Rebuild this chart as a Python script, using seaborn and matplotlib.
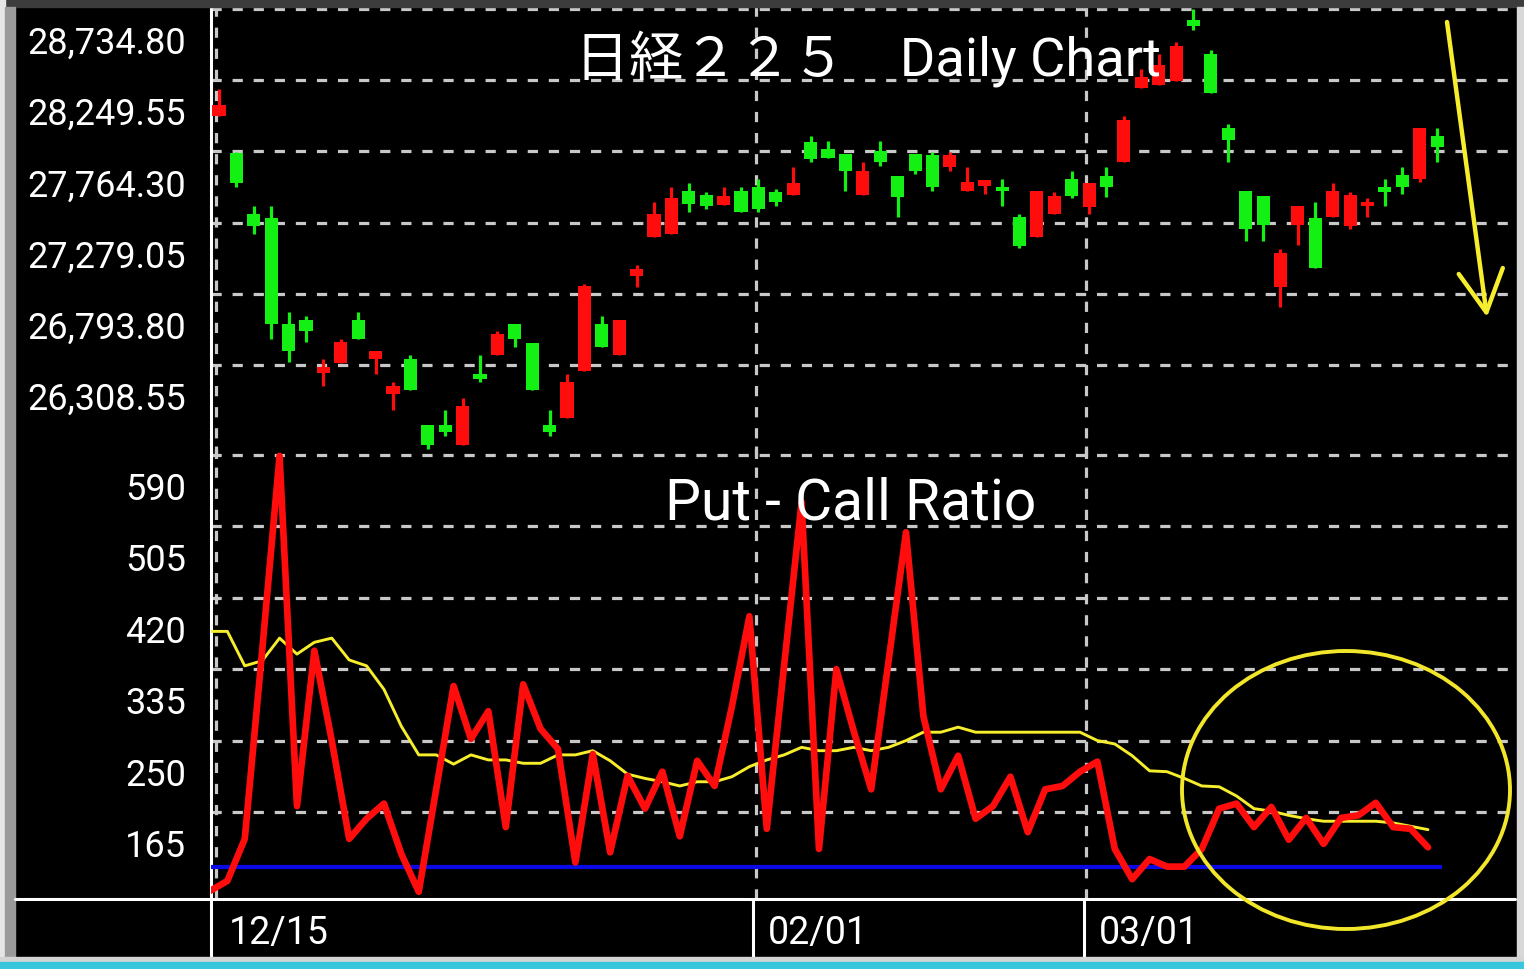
import matplotlib
matplotlib.use("Agg")
import matplotlib.pyplot as plt
import matplotlib.transforms as mtransforms
from matplotlib.patches import Ellipse, Rectangle
from matplotlib.lines import Line2D
import numpy as np
import pandas as pd
import seaborn as sns

# --- daily candles ---
opens = [28006, 27753, 27338, 27310, 26588, 26615, 26254, 26322, 26615, 26350,
         26111, 26350, 25900, 25900, 25764, 26247, 26377, 26588, 26459, 25900,
         25948, 26268, 26588, 26377, 26915, 27181, 27201, 27495, 27467, 27399,
         27495, 27522, 27488, 27467, 27828, 27781, 27747, 27467, 27767, 27597,
         27747, 27740, 27658, 27495, 27529, 27522, 27317, 27181, 27338, 27576,
         27385, 27597, 27692, 28196, 28217, 28244, 28660, 28428, 27924, 27495,
         27460, 26840, 27263, 27310, 27317, 27256, 27392, 27522, 27604, 27576,
         27869]
highs = [28190, 27760, 27392, 27392, 26670, 26643, 26350, 26486, 26670, 26404,
         26193, 26377, 25900, 26002, 26084, 26377, 26541, 26588, 26459, 26002,
         26247, 26861, 26643, 26615, 26990, 27420, 27522, 27549, 27488, 27522,
         27522, 27576, 27508, 27658, 27869, 27835, 27747, 27692, 27835, 27597,
         27747, 27760, 27760, 27658, 27569, 27576, 27338, 27495, 27488, 27631,
         27549, 27658, 28006, 28326, 28428, 28510, 28735, 28455, 27951, 27495,
         27460, 27099, 27392, 27420, 27549, 27488, 27447, 27576, 27658, 27924,
         27924]
lows = [28006, 27522, 27201, 26486, 26329, 26466, 26166, 26322, 26486, 26247,
        26002, 26138, 25736, 25825, 25764, 26193, 26377, 26431, 26138, 25825,
        25948, 26268, 26431, 26377, 26840, 27181, 27201, 27351, 27372, 27399,
        27351, 27351, 27392, 27467, 27692, 27720, 27495, 27467, 27665, 27317,
        27610, 27495, 27631, 27495, 27474, 27392, 27106, 27181, 27338, 27447,
        27338, 27454, 27692, 28196, 28217, 28244, 28592, 28162, 27692, 27154,
        27154, 26704, 27127, 26970, 27317, 27236, 27317, 27392, 27474, 27556,
        27692]
closes = [28080, 27549, 27256, 26588, 26404, 26541, 26295, 26466, 26486, 26404,
          26166, 26138, 25764, 25852, 26029, 26213, 26520, 26486, 26138, 25852,
          26193, 26847, 26431, 26615, 26963, 27338, 27447, 27406, 27392, 27460,
          27351, 27372, 27420, 27549, 27713, 27720, 27631, 27631, 27692, 27454,
          27631, 27522, 27740, 27556, 27569, 27495, 27120, 27495, 27460, 27460,
          27549, 27522, 27978, 28271, 28353, 28483, 28619, 28162, 27842, 27236,
          27263, 27072, 27392, 26970, 27495, 27467, 27420, 27488, 27522, 27924,
          27794]

# --- put/call ratio, its moving average, and the 100 reference ---
pcr = [71, 83, 133, 357, 589, 172, 357, 250, 133, 157,
       175, 115, 70, 192, 315, 252, 285, 147, 317, 264,
       240, 105, 234, 117, 208, 169, 213, 136, 226, 196,
       291, 398, 145, 340, 534, 121, 335, 261, 192, 345,
       498, 279, 192, 232, 157, 172, 207, 141, 192, 196,
       213, 225, 121, 85, 109, 100, 100, 121, 169, 175,
       147, 171, 132, 158, 127, 158, 161, 176, 147, 145,
       123]
pcr_ma = [380, 380, 339, 345, 372, 353, 367, 372, 346, 339,
          311, 267, 233, 233, 222, 233, 227, 227, 223, 223,
          233, 233, 238, 226, 210, 205, 201, 196, 201, 201,
          207, 219, 227, 233, 242, 238, 238, 242, 238, 242,
          250, 260, 260, 266, 260, 260, 260, 260, 260, 260,
          260, 250, 246, 232, 214, 213, 205, 196, 195, 184,
          169, 166, 161, 157, 154, 154, 154, 154, 152, 148,
          144]
pcr_base = 100

price_levels = [28734.80, 28249.55, 27764.30, 27279.05, 26793.80, 26308.55]
pcr_levels = [590, 505, 420, 335, 250, 165]
date_ticks = [0, 31, 50]
date_labels = ["12/15", "02/01", "03/01"]

W, H = 1524, 970
NARROW = ["Roboto", "DejaVu Sans"]
JP = ["Roboto", "Noto Sans CJK JP", "DejaVu Sans"]
RED, GREEN, YEL = "#ff0d0d", "#14f014", "#f6ee2c"
GRID = dict(color="#c8c8c8", linewidth=2.3, dashes=(3.2, 3.4))

sns.set_style("dark")
plt.rcParams["font.family"] = NARROW

df = pd.DataFrame({"open": opens, "high": highs, "low": lows, "close": closes,
                   "pcr": pcr, "ma": pcr_ma})
df["day"] = np.arange(len(df))
df["pcr_x"] = df["day"] - 0.52  # ratio line sits half a slot left of candles


def rect(x0, y0, x1, y1):  # pixel box -> figure fraction
    return [x0 / W, 1 - y1 / H, (x1 - x0) / W, (y1 - y0) / H]


fig = plt.figure(figsize=(W / 100, H / 100), dpi=100, facecolor="black")
ax_top = fig.add_axes(rect(211, 8, 1515, 460))
ax_pcr = fig.add_axes(rect(211, 440, 1515, 900))
ax_date = fig.add_axes(rect(211, 900, 1515, 958))

for ax in (ax_top, ax_pcr, ax_date):
    ax.set_facecolor("none")
    ax.set_xlim(-0.46, 74.48)
    for s in ax.spines.values():
        s.set_visible(False)
    ax.spines["left"].set_visible(True)
    ax.spines["left"].set_color("white")
    ax.spines["left"].set_linewidth(2.2)
    ax.grid(False)

# candles
up = df["close"] > df["open"]
cols = np.where(up, RED, GREEN)
ax_top.vlines(df["day"], df["low"], df["high"], colors=cols, linewidth=2.3, zorder=3)
body_lo = df[["open", "close"]].min(axis=1)
body_h = (df["close"] - df["open"]).abs()
ax_top.bar(df["day"], body_h, bottom=body_lo, width=0.75, color=cols, zorder=4,
           linewidth=0)
ax_top.set_ylim(25667.9, 28748.4)

# put/call lines
ax_pcr.hlines(pcr_base, -0.52, 70.3, color="#0a0ae6", linewidth=3, zorder=3)
sns.lineplot(data=df, x="pcr_x", y="ma", ax=ax_pcr, color=YEL, linewidth=2.1, zorder=4)
sns.lineplot(data=df, x="pcr_x", y="pcr", ax=ax_pcr, color=RED, linewidth=4.8, zorder=5)
ax_pcr.set_ylim(61.43, 609.05)
ax_pcr.set_xlim(-0.46, 74.48)

# grids, ticks, labels
panels = [(ax_top, price_levels, 485.25, lambda v: f"{v:,.2f}"),
          (ax_pcr, pcr_levels, 85, lambda v: f"{v:d}")]
for ax, levels, step, fmt in panels:
    ax.set_xlabel("")
    ax.set_ylabel("")
    ax.set_yticks(levels)
    ax.set_yticks([v - step / 2 for v in levels], minor=True)
    ax.set_xticks(date_ticks)
    ax.tick_params(axis="y", which="major", length=11, width=1.6, color="white",
                   direction="out", labelleft=False)
    ax.tick_params(axis="y", which="minor", length=6, width=1.6, color="white",
                   direction="out", labelleft=False)
    ax.tick_params(axis="x", length=0, labelbottom=False)
    for v in levels:
        ax.axhline(v, **GRID, zorder=1)
    for d in date_ticks:
        ax.axvline(d - 0.15, **GRID, zorder=1)
    trans = mtransforms.offset_copy(
        mtransforms.blended_transform_factory(ax.transAxes, ax.transData),
        fig=fig, x=0, y=-44, units="dots")
    for v in levels:
        ax.text(-0.0192, v, fmt(v), transform=trans, ha="right", va="baseline",
                color="white", fontsize=26, family=NARROW)

# date strip
ax_date.set_ylim(0, 1)
ax_date.set_xticks([])
ax_date.set_yticks([])
for d, lab in zip(date_ticks, date_labels):
    if d > 0:
        ax_date.axvline(d - 0.3, color="white", linewidth=2.2)
    ax_date.text(d + 0.55, 0.24, lab, ha="left", va="baseline", color="white",
                 fontsize=27, family=NARROW)

# titles
fig.text(575 / W, 1 - 76 / H, "日経２２５　Daily Chart", ha="left", va="baseline",
         color="white", fontsize=39, family=JP)
fig.text(665 / W, 1 - 519 / H, "Put - Call Ratio", ha="left", va="baseline",
         color="white", fontsize=41, family=NARROW)

# window frame
frame = [((0, 0), W, 8, "#3c3c3c"), ((0, 0), 5, H, "#e6e6e6"), ((5, 8), 10, H, "#9a9a9a"),
         ((1517, 8), 7, H, "#d8d8d8"), ((0, 958), W, 5, "#d4d4d4"), ((0, 963), W, 7, "#38c6dc")]
for (x0, y0), w, h, c in frame:
    fig.add_artist(Rectangle((x0 / W, 1 - (y0 + h) / H), w / W, h / H,
                             transform=fig.transFigure, color=c, zorder=0.5))
fig.add_artist(Line2D([15 / W, 1515 / W], [1 - 900 / H] * 2, transform=fig.transFigure,
                      color="white", linewidth=2.2))

# hand-drawn highlights
ax_top.annotate("", xy=(1487 / W, 1 - 318 / H), xytext=(1447 / W, 1 - 23 / H),
                xycoords="figure fraction", textcoords="figure fraction",
                annotation_clip=False,
                arrowprops=dict(arrowstyle="->,head_length=3.0,head_width=1.6",
                                color=YEL, lw=3.2, mutation_scale=10,
                                shrinkA=0, shrinkB=0))
fig.add_artist(Ellipse((1346 / W, 1 - 791 / H), 328 / W, 278 / H,
                       transform=fig.transFigure, fill=False,
                       edgecolor="#f2e62a", linewidth=2.8, zorder=3))

fig.savefig("out.png", dpi=100, facecolor="black")
